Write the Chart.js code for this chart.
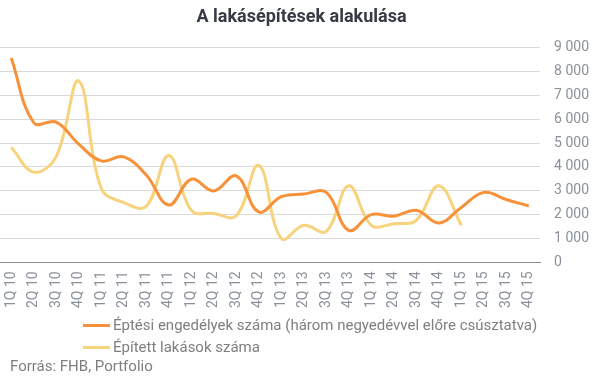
<!DOCTYPE html>
<html>
<head>
<meta charset="utf-8">
<script src="https://cdn.jsdelivr.net/npm/chart.js@4"></script>
<style>
  html, body { margin: 0; padding: 0; background: #fff; }
  #wrap { position: relative; width: 605px; height: 379px; font-family: Roboto, sans-serif; }
  #chart { position: absolute; left: 0; top: 0; }
  .legend { position: absolute; left: 83px; top: 314px; color: #7f7f7f; font-size: 15px; }
  .legend-row { display: flex; align-items: center; height: 22px; }
  .legend-line { width: 27px; height: 3px; margin-right: 3px; }
  .source { position: absolute; left: 10px; top: 357px; color: #7f7f7f; font-size: 15px; }
</style>
</head>
<body>
<div id="wrap">
  <canvas id="chart" width="605" height="379"></canvas>
  <div class="legend" id="legend"></div>
  <div class="source">Forrás: FHB, Portfolio</div>
</div>
<script>
// Data
const quarters = ['1Q 10', '2Q 10', '3Q 10', '4Q 10', '1Q 11', '2Q 11', '3Q 11', '4Q 11',
  '1Q 12', '2Q 12', '3Q 12', '4Q 12', '1Q 13', '2Q 13', '3Q 13', '4Q 13',
  '1Q 14', '2Q 14', '3Q 14', '4Q 14', '1Q 15', '2Q 15', '3Q 15', '4Q 15'];

const permits = [8560, 5850, 5880, 4950, 4250, 4420, 3660, 2400, 3480, 2990, 3620, 2110,
  2750, 2860, 2930, 1340, 2000, 1930, 2180, 1650, 2300, 2930, 2630, 2360];

const built = [4820, 3780, 4440, 7600, 3100, 2500, 2350, 4480, 2180, 2050, 1950, 4060,
  1000, 1550, 1300, 3210, 1550, 1620, 1760, 3210, 1550];

const yTicks = [0, 1000, 2000, 3000, 4000, 5000, 6000, 7000, 8000, 9000];

const COLORS = {
  orange: '#f7923a',
  yellow: '#f8d37e',
  grid: '#d9d9d9',
  axis: '#8c8c8c',
  tick: '#8a919b',
};

function formatThousands(v) {
  return String(v).replace(/\B(?=(\d{3})+(?!\d))/g, ' ');
}

const datasets = [
  { label: 'Éptési engedélyek száma (három negyedévvel előre csúsztatva)', data: permits, borderColor: COLORS.orange },
  { label: 'Épített lakások száma', data: built, borderColor: COLORS.yellow },
];

// Legend (html)
document.getElementById('legend').innerHTML = datasets.map(ds => `
  <div class="legend-row"><span class="legend-line" style="background:${ds.borderColor}"></span>${ds.label}</div>
`).join('');

new Chart(document.getElementById('chart').getContext('2d'), {
  type: 'line',
  data: {
    labels: quarters,
    datasets: datasets.map(ds => ({
      ...ds,
      borderWidth: 3,
      pointRadius: 0,
      tension: 0.4,
      fill: false,
    })),
  },
  options: {
    responsive: false,
    animation: false,
    layout: { padding: { left: 0, right: 2, top: 0, bottom: 62 } },
    plugins: {
      legend: { display: false },
      tooltip: { enabled: false },
      title: {
        display: true,
        text: 'A lakásépítések alakulása',
        color: '#363b44',
        font: { family: 'Roboto', size: 18, weight: 'bold' },
        padding: { top: 7, bottom: 19 },
      },
    },
    scales: {
      x: {
        offset: true,
        grid: { display: false, drawTicks: false },
        border: { display: true, color: COLORS.axis, width: 1 },
        ticks: {
          autoSkip: false,
          minRotation: 90,
          maxRotation: 90,
          padding: 9,
          color: COLORS.tick,
          font: { family: 'Roboto', size: 14 },
        },
      },
      y: {
        position: 'right',
        min: 0,
        max: 9000,
        afterBuildTicks: (axis) => { axis.ticks = yTicks.map(v => ({ value: v })); },
        grid: { color: COLORS.grid, drawTicks: false },
        border: { display: false },
        ticks: {
          padding: 14,
          color: COLORS.tick,
          font: { family: 'Roboto', size: 14 },
          callback: (v) => formatThousands(v),
        },
      },
    },
  },
});
</script>
</body>
</html>
